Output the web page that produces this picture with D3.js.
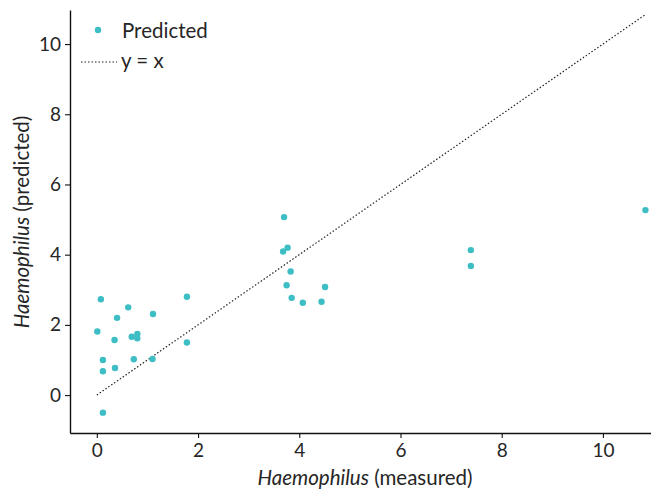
<!DOCTYPE html>
<html>
<head>
<meta charset="utf-8">
<script src="https://cdn.jsdelivr.net/npm/d3@7"></script>
<style>
  body { margin: 0; background: #fff; }
  svg text { font-family: Lato, "Noto Sans", sans-serif; fill: #262626; }
</style>
</head>
<body>
<div id="chart"></div>
<script>
// ---------- DATA ----------
const measured = [0.08, 1.78, 0.62, 0.40, 1.11, 0.01, 0.35, 0.69, 0.80, 0.80,
                  1.78, 0.12, 0.73, 1.10, 0.36, 0.12, 0.12,
                  3.70, 3.77, 3.68, 3.83, 3.75, 4.51, 3.85, 4.07, 4.44,
                  7.39, 7.39, 10.84];
const predicted = [2.73, 2.80, 2.50, 2.20, 2.31, 1.81, 1.57, 1.66, 1.74, 1.62,
                   1.50, 1.00, 1.02, 1.03, 0.77, 0.68, -0.50,
                   5.07, 4.20, 4.09, 3.52, 3.13, 3.08, 2.77, 2.63, 2.66,
                   4.13, 3.68, 5.27];
const xTicks = [0, 2, 4, 6, 8, 10];
const yTicks = [0, 2, 4, 6, 8, 10];
const legendLabels = ["Predicted", "y = x"];

const points = measured.map((m, i) => ({ x: m, y: predicted[i] }));

// ---------- FRAME ----------
const FRAME_WIDTH = 651;
const FRAME_HEIGHT = 489;
const MARGINS = { left: 70, right: 0, top: 10, bottom: 56 };
const POINT_COLOR = "#3dbec4";

const svg = d3.select("#chart")
  .append("svg")
  .attr("width", FRAME_WIDTH)
  .attr("height", FRAME_HEIGHT);

const x = d3.scaleLinear()
  .domain([-0.53, 10.95])
  .range([MARGINS.left, FRAME_WIDTH - MARGINS.right]);

const y = d3.scaleLinear()
  .domain([-1.08, 10.97])
  .range([FRAME_HEIGHT - MARGINS.bottom, MARGINS.top]);

// ---------- AXES ----------
const xAxis = svg.append("g")
  .attr("transform", `translate(0,${FRAME_HEIGHT - MARGINS.bottom})`)
  .call(d3.axisBottom(x).tickValues(xTicks).tickSize(5).tickSizeOuter(0).tickPadding(6));

const yAxis = svg.append("g")
  .attr("transform", `translate(${MARGINS.left},0)`)
  .call(d3.axisLeft(y).tickValues(yTicks).tickSize(5).tickSizeOuter(0).tickPadding(4));

[xAxis, yAxis].forEach(ax => {
  ax.select(".domain").attr("stroke", "#111").attr("stroke-width", 1.4);
  ax.selectAll(".tick line").attr("stroke", "#111").attr("stroke-width", 1.1);
  ax.selectAll(".tick text").attr("font-size", 19).attr("fill", "#262626");
});

// axis titles
const xTitle = svg.append("text")
  .attr("x", 365)
  .attr("y", 485)
  .attr("text-anchor", "middle")
  .attr("font-size", 20.5);
xTitle.append("tspan").attr("font-style", "italic").text("Haemophilus");
xTitle.append("tspan").text(" (measured)");

const yTitle = svg.append("text")
  .attr("transform", "translate(29,222) rotate(-90)")
  .attr("text-anchor", "middle")
  .attr("font-size", 20.5);
yTitle.append("tspan").attr("font-style", "italic").text("Haemophilus");
yTitle.append("tspan").text(" (predicted)");

// ---------- y = x LINE ----------
const maxX = d3.max(measured);
svg.append("line")
  .attr("x1", x(0)).attr("y1", y(0))
  .attr("x2", x(maxX)).attr("y2", y(maxX))
  .attr("stroke", "#222")
  .attr("stroke-width", 1.2)
  .attr("stroke-dasharray", "1.5,2");

// ---------- POINTS ----------
svg.append("g")
  .selectAll("circle")
  .data(points)
  .enter()
  .append("circle")
  .attr("cx", d => x(d.x))
  .attr("cy", d => y(d.y))
  .attr("r", 3.2)
  .attr("fill", POINT_COLOR);

// ---------- LEGEND ----------
const legend = svg.append("g");
legend.append("circle")
  .attr("cx", 98).attr("cy", 30).attr("r", 3.2)
  .attr("fill", POINT_COLOR);
legend.append("text")
  .attr("x", 122).attr("y", 38)
  .attr("font-size", 20.5)
  .text(legendLabels[0]);
legend.append("line")
  .attr("x1", 81).attr("x2", 117)
  .attr("y1", 62).attr("y2", 62)
  .attr("stroke", "#222")
  .attr("stroke-width", 1.2)
  .attr("stroke-dasharray", "1.5,2");
legend.append("text")
  .attr("x", 121).attr("y", 68)
  .attr("font-size", 20.5)
  .text(legendLabels[1]);
</script>
</body>
</html>
